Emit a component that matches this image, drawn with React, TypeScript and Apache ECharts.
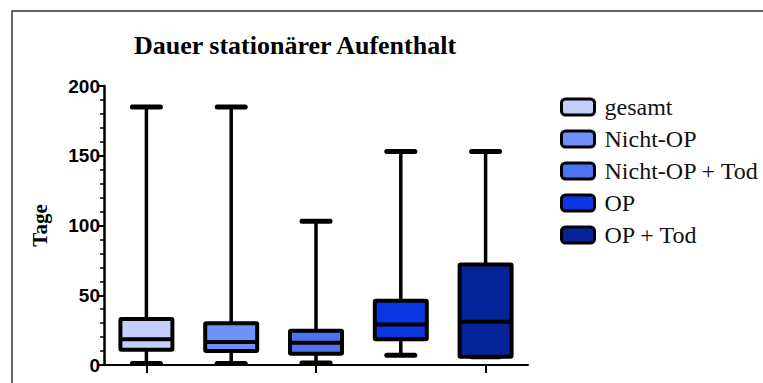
import React, { useEffect, useRef } from "react";
import * as echarts from "echarts";

const categories = ["gesamt", "Nicht-OP", "Nicht-OP + Tod", "OP", "OP + Tod"];
const colors = ["#c4cffb", "#6f90f6", "#4b73f2", "#0a36e2", "#05249a"];
// [min, q1, median, q3, max]
const minValues = [1, 1, 1.5, 7, 6];
const q1Values = [11, 10, 8, 18.5, 6];
const medianValues = [18.5, 16.5, 16, 29, 31];
const q3Values = [33, 30, 24.5, 46, 72];
const maxValues = [185, 185, 103, 153, 153];
const yTicks = [0, 50, 100, 150, 200];

export default function App() {
  const ref = useRef<HTMLDivElement>(null);
  useEffect(() => {
    if (!ref.current) return;
    const chart = echarts.init(ref.current, null, { renderer: "svg" });
    const renderItem = (params: any, api: any) => {
      const idx = api.value(0);
      const mn = api.coord([idx, api.value(1)]);
      const q1 = api.coord([idx, api.value(2)]);
      const md = api.coord([idx, api.value(3)]);
      const q3 = api.coord([idx, api.value(4)]);
      const mx = api.coord([idx, api.value(5)]);
      const x = mn[0];
      const boxW = 52;
      const capW = 28;
      const color = api.visual("color");
      return {
        type: "group",
        children: [
          { type: "line", shape: { x1: x, y1: mx[1], x2: x, y2: q3[1] }, style: { stroke: "#000", lineWidth: 3.5 } },
          { type: "line", shape: { x1: x, y1: q1[1], x2: x, y2: mn[1] }, style: { stroke: "#000", lineWidth: 3.5 } },
          { type: "line", shape: { x1: x - capW / 2, y1: mx[1], x2: x + capW / 2, y2: mx[1] }, style: { stroke: "#000", lineWidth: 5, lineCap: "round" } },
          { type: "line", shape: { x1: x - capW / 2, y1: mn[1], x2: x + capW / 2, y2: mn[1] }, style: { stroke: "#000", lineWidth: 5, lineCap: "round" } },
          { type: "rect", shape: { x: x - boxW / 2, y: q3[1], width: boxW, height: q1[1] - q3[1], r: 1 }, style: { fill: color, stroke: "#000", lineWidth: 4 } },
          { type: "line", shape: { x1: x - boxW / 2, y1: md[1], x2: x + boxW / 2, y2: md[1] }, style: { stroke: "#000", lineWidth: 4 } },
        ],
      };
    };
    const series = categories.map((name, i) => ({
      type: "custom",
      name,
      color: colors[i],
      renderItem,
      encode: { x: 0, y: [1, 2, 3, 4, 5] },
      data: [[i, minValues[i], q1Values[i], medianValues[i], q3Values[i], maxValues[i]]],
      z: 3,
    }));
    chart.setOption({
      animation: false,
      grid: { left: 104, right: 235, top: 86, bottom: 18 },
      graphic: [
        { type: "rect", shape: { x: 12, y: 11, width: 800, height: 420 }, style: { fill: "none", stroke: "#333", lineWidth: 1.5 }, silent: true },
        { type: "text", x: 295, y: 45, style: { text: "Dauer stationärer Aufenthalt", font: "bold 26px 'Liberation Serif'", fill: "#000", textAlign: "center", textVerticalAlign: "middle" } },
      ],
      legend: {
        orient: "vertical",
        left: 555,
        top: 90,
        itemWidth: 33,
        itemHeight: 16,
        itemGap: 8,
        textStyle: { fontFamily: "Liberation Serif", fontSize: 24, color: "#111", lineHeight: 21, padding: [0, 0, 0, 5] },
        data: categories.map((name, i) => ({
          name,
          icon: "roundRect",
          itemStyle: { color: colors[i], borderColor: "#000", borderWidth: 3 },
        })),
      },
      xAxis: {
        type: "category",
        data: categories,
        axisLine: { lineStyle: { color: "#000", width: 2 } },
        axisTick: { show: true, alignWithLabel: true, length: 8, lineStyle: { color: "#000", width: 2 } },
        axisLabel: { show: false },
        splitLine: { show: false },
      },
      yAxis: {
        type: "value",
        min: yTicks[0],
        max: yTicks[yTicks.length - 1],
        interval: 50,
        name: "Tage",
        nameLocation: "middle",
        nameRotate: 90,
        nameGap: 54,
        nameTextStyle: { fontFamily: "Liberation Serif", fontWeight: "bold", fontSize: 21, color: "#000" },
        axisLine: { show: true, lineStyle: { color: "#000", width: 2.5 } },
        axisTick: { show: true, length: 6, lineStyle: { color: "#000", width: 2 } },
        minorTick: { show: true, splitNumber: 5, length: 4, lineStyle: { color: "#000", width: 1.5 } },
        axisLabel: { fontFamily: "Liberation Sans", fontWeight: "bold", fontSize: 19, color: "#000", margin: 4 },
        splitLine: { show: false },
      },
      series,
    });
    return () => chart.dispose();
  }, []);
  return <div ref={ref} style={{ position: "fixed", left: 0, top: 0, width: 763, height: 383, background: "#fff" }} />;
}
